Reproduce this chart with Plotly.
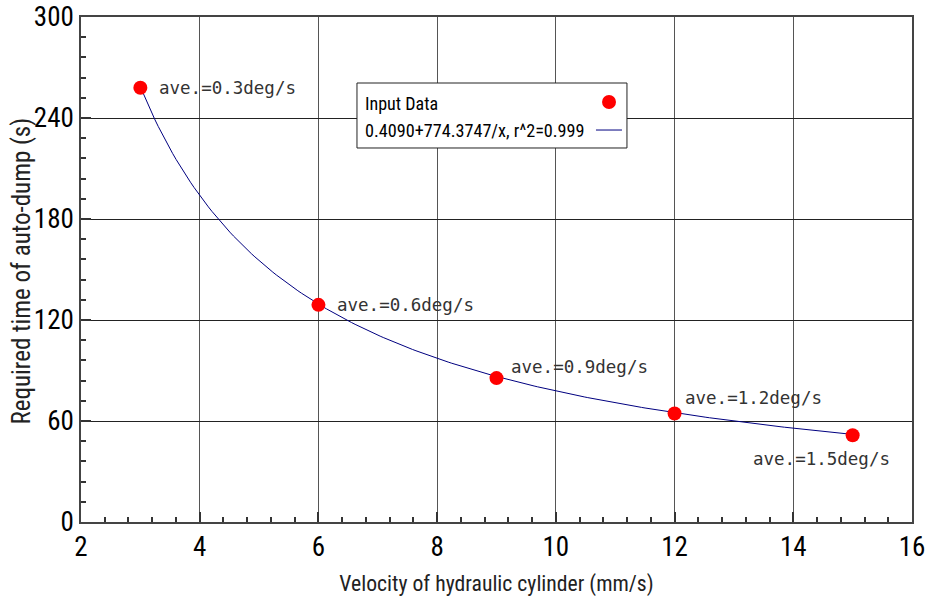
import numpy as np
import plotly.graph_objects as go

# Measured auto-dump times
velocity = [3, 6, 9, 12, 15]                 # mm/s
dump_time = [258.0, 129.0, 85.5, 64.5, 51.5]  # s
rate_labels = ["ave.=0.3deg/s", "ave.=0.6deg/s", "ave.=0.9deg/s",
               "ave.=1.2deg/s", "ave.=1.5deg/s"]

# Fitted model t = a + b / v
fit_a = 0.4090
fit_b = 774.3747
fit_r2 = 0.999

x_ticks = [2, 4, 6, 8, 10, 12, 14, 16]
y_ticks = [0, 60, 120, 180, 240, 300]

narrow = "Liberation Sans Narrow, Arial Narrow, Roboto Condensed, sans-serif"
mono = "DejaVu Sans Mono, monospace"

v_fit = np.linspace(velocity[0], velocity[-1], 200)
t_fit = fit_a + fit_b / v_fit

fig = go.Figure()
fig.add_trace(go.Scatter(x=v_fit, y=t_fit, mode="lines",
                         line=dict(color="#000080", width=1), showlegend=False,
                         hoverinfo="skip"))
fig.add_trace(go.Scatter(x=velocity, y=dump_time, mode="markers",
                         marker=dict(color="#ff0000", size=14), showlegend=False))

# per-point label placement (anchor, pixel offsets)
label_pos = [("left", 17, 0), ("left", 17, 0), ("left", 12, 11),
             ("left", 8, 15), ("right", 39, -24)]
for xv, yv, txt, (anc, dx, dy) in zip(velocity, dump_time, rate_labels, label_pos):
    fig.add_annotation(x=xv, y=yv, text=txt, showarrow=False,
                       xanchor=anc, yanchor="middle", xshift=dx, yshift=dy,
                       font=dict(family=mono, size=17.5, color="#333333"))

# boxed key with symbols on the right
fig.add_shape(type="rect", xref="paper", yref="paper",
              x0=0.3321, x1=0.6570, y0=0.7406, y1=0.8693,
              line=dict(color="#222222", width=1), fillcolor="white", layer="above")
fig.add_annotation(xref="paper", yref="paper", x=0.3394, y=0.8297,
                   text="Input Data", showarrow=False, xanchor="left", yanchor="middle",
                   font=dict(family=narrow, size=18, color="black"))
fig.add_annotation(xref="paper", yref="paper", x=0.3394, y=0.7762,
                   text=f"{fit_a:.4f}+{fit_b:.4f}/x, r^2={fit_r2}", showarrow=False,
                   xanchor="left", yanchor="middle",
                   font=dict(family=narrow, size=18.2, color="black"))
fig.add_shape(type="circle", xref="paper", yref="paper",
              x0=0.6270, x1=0.6438, y0=0.8178, y1=0.8455,
              line=dict(color="#ff0000", width=0), fillcolor="#ff0000", layer="above")
fig.add_shape(type="line", xref="paper", yref="paper",
              x0=0.6197, x1=0.6510, y0=0.7762, y1=0.7762,
              line=dict(color="#000080", width=1), layer="above")

# vertical axis title
fig.add_annotation(xref="paper", yref="paper", x=-0.0722, y=0.5, yshift=-2,
                   text="Required time of auto-dump (s)", textangle=-90,
                   showarrow=False, xanchor="center", yanchor="middle",
                   font=dict(family=narrow, size=25, color="#222222"))

axis_common = dict(
    showline=True, linecolor="#444444", linewidth=1.5, mirror=True,
    showgrid=True, gridwidth=1,
    ticks="inside", ticklen=10, tickcolor="#333333", tickwidth=1.5,
    tickfont=dict(family=narrow, size=27, color="black"),
    zeroline=False, automargin=False,
)

fig.update_xaxes(range=[2, 16], tickvals=x_ticks, ticktext=[str(v) for v in x_ticks],
                 gridcolor="#555555",
                 minor=dict(dtick=0.4, ticks="inside", ticklen=5, tickcolor="#333333",
                            showgrid=False),
                 title=dict(text="Velocity of hydraulic cylinder (mm/s)",
                            font=dict(family=narrow, size=21.7, color="#222222"),
                            standoff=14),
                 **axis_common)
fig.update_yaxes(range=[0, 300], tickvals=y_ticks, ticktext=[str(v) for v in y_ticks],
                 gridcolor="#222222",
                 minor=dict(dtick=12, ticks="inside", ticklen=5, tickcolor="#333333",
                            showgrid=False),
                 **axis_common)

fig.update_layout(
    width=927, height=602,
    margin=dict(l=81, r=15, t=17, b=80, autoexpand=False),
    paper_bgcolor="white", plot_bgcolor="white",
)

fig.write_html("out.html")
